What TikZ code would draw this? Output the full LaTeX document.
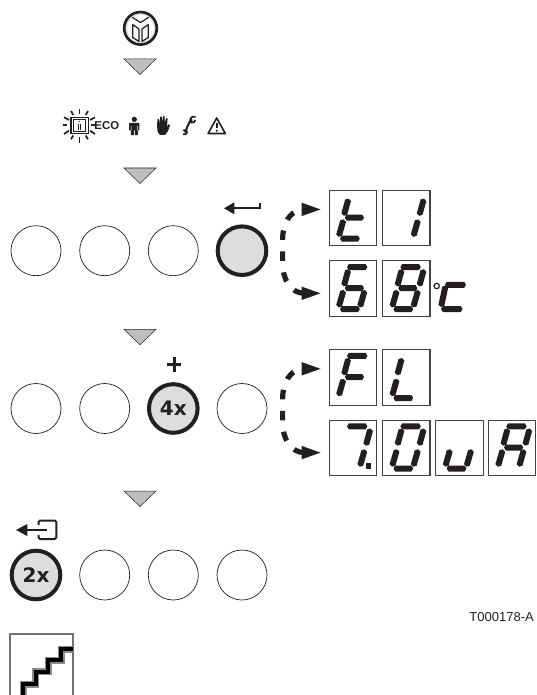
\documentclass[tikz,border=0pt]{standalone}
\usepackage{fontspec}
\setmainfont{Liberation Sans}
\newfontfamily\btnfont{DejaVu Sans}
\usetikzlibrary{calc,arrows.meta}
\definecolor{btngray}{RGB}{220,221,222}
\definecolor{trigray}{RGB}{188,190,192}
\definecolor{inkc}{RGB}{35,31,32}
\tikzset{
  plainbtn/.style={circle,draw=inkc,line width=.7pt,minimum size=50pt,inner sep=0pt,fill=white},
  hotbtn/.style={circle,draw=inkc,line width=4pt,minimum size=48.6pt,inner sep=0pt,fill=btngray,font=\btnfont\bfseries\fontsize{20}{20}\selectfont,text=inkc},
  tri/.style={fill=trigray,draw=inkc,line width=.5pt,line join=miter},
  dispbox/.style={draw=inkc!85,line width=1.2pt,minimum width=47.4pt,minimum height=55.6pt,inner sep=0pt,fill=white,anchor=north west},
  dashconn/.style={draw=inkc,line width=5.2pt,dash pattern=on 9.5pt off 11.5pt,dash phase=11pt,
     {Triangle[length=21pt,width=11.5pt,fill=inkc]}-{Triangle[length=21pt,width=11.5pt,fill=inkc]}},
  iconline/.style={draw=inkc,line width=1pt},
}
% one tapered display segment between two tips
\newcommand\dseg[4]{%
  \fill[inkc] (#1,#2)
    -- ($(#1,#2)!1.8pt!(#3,#4)!3pt!90:(#3,#4)$)
    -- ($(#3,#4)!1.8pt!(#1,#2)!3pt!-90:(#1,#2)$)
    -- (#3,#4)
    -- ($(#3,#4)!1.8pt!(#1,#2)!3pt!90:(#1,#2)$)
    -- ($(#1,#2)!1.8pt!(#3,#4)!3pt!-90:(#3,#4)$) -- cycle;}
\newcommand\sega{\dseg{18.4}{6.9}{38.8}{6.9}}
\newcommand\segb{\dseg{41.9}{9}{37.2}{26.2}}
\newcommand\segc{\dseg{36.2}{29.8}{31.2}{47.2}}
\newcommand\segd{\dseg{11.4}{49}{31.2}{49}}
\newcommand\sege{\dseg{15}{29.8}{10}{47.2}}
\newcommand\segf{\dseg{19.9}{9}{15.2}{26.2}}
\newcommand\segg{\dseg{16.2}{28}{35.4}{28}}
\newcommand\glyph[2]{\foreach \s in {#2}{\begin{scope}[shift={(#1.north west)}]\csname seg\s\endcsname\end{scope}}}
\newcommand\conn[2]{%
  \draw[dashconn] ([shift={(-6,-8.6)}]#1.west) -- ([shift={(-28,-8.6)}]#1.west)
    .. controls ([shift={(-39,-5.6)}]#1.west) and ([shift={(-46,5)}]#1.west) .. ([shift={(-46,22)}]#1.west)
    -- ([shift={(-46,-26)}]#2.west)
    .. controls ([shift={(-46,-9)}]#2.west) and ([shift={(-38,4.7)}]#2.west) .. ([shift={(-24,4.7)}]#2.west)
    -- ([shift={(-6,4.7)}]#2.west);}
\begin{document}
\begin{tikzpicture}[x=1pt,y=-1pt]
\useasboundingbox (0,0) rectangle (536,695);
% top round symbol
\draw[draw=inkc,line width=2.6pt,fill=btngray] (140.5,28.3) circle (16.3);
\fill[white] (140.5,28.3) circle (13.4);
\draw[inkc,line width=1.2pt,line join=miter] (132.3,17.3) -- (140.5,22.5) -- (148.7,17.3);
\draw[inkc,line width=1.2pt,line join=round] (132.8,24.6) -- (139,29) -- (139,41.5) -- (132.8,37.5) -- cycle;
\draw[inkc,line width=1.2pt,line join=round] (148.2,24.6) -- (142,29) -- (142,41.5) -- (148.2,37.5) -- cycle;
% triangles
\foreach \n/\y in {tria/59,trib/168,tric/329.3,trid/491}{
  \fill[tri] (124,\y) -- (156,\y) -- (140,\y+15.5) -- cycle;
  \coordinate (\n) at (140,\y);}
% symbol row
\draw[iconline,line width=1.1pt] (71,117.3) rectangle (88.3,133.3);
\draw[iconline,line width=.8pt] (73.7,119.7) rectangle (85.5,131);
\draw[iconline,line width=.9pt] (79.5,121) -- (79.5,122.5) (78.6,124) -- (78.6,130) (80.4,124) -- (80.4,130);
\foreach \a/\b/\c/\d in {79.5/109.3/79.5/114,79.5/137.3/79.5/142.7,62.7/125.3/67.3/125.3,90.5/125.3/95/125.3,
   71/111/73.3/115,88/111/85.7/115,64/117.3/69/120,95/117.3/90/120,
   64/134/69/130.7,95/134/90/130.7,71/139.3/73.3/135.5,88/139.3/85.7/135.5}
  \draw[inkc,line width=1.7pt] (\a,\b) -- (\c,\d);
\node[font=\bfseries\fontsize{11.4}{11.4}\selectfont,text=inkc,inner sep=0pt] (eco) at (106.8,126) {ECO};
% person
\fill[inkc] (134.3,119.4) circle (2.6);
\fill[inkc,rounded corners=.8pt] (129,122.8) rectangle (139.4,130.5);
\fill[inkc] (130.8,128) rectangle (133.9,135.2) (134.8,128) rectangle (137.8,135.2);
\fill[white] (130.8,126) rectangle (131.4,130.5) (137.1,126) rectangle (137.7,130.5);
% hand
\fill[inkc,rounded corners=.6pt] (157,126) -- (157.5,119) -- (159,119) -- (159.7,124) -- (160.2,116.5) -- (161.8,116.5) -- (162.2,123) -- (163,116) -- (164.6,116) -- (164.8,123) -- (166,118) -- (167.6,118.5) -- (167,127) -- (168.6,124) -- (170,125) -- (168,131) -- (165,135) -- (160,135) -- (157.6,132) -- cycle;
% wrench
\draw[inkc,line width=2pt] (192,119.5) .. controls (188,122) and (187,129) .. (185,132.5);
\draw[inkc,line width=1.8pt] (195.5,116.8) .. controls (191,115.5) and (188.5,120) .. (191.5,122.5) .. controls (193.5,123) and (195,121.5) .. (195.3,120);
\draw[inkc,line width=1.6pt] (183.2,134.2) .. controls (187,135.5) and (188,131.5) .. (186,130) (182.8,130.5) -- (186,130);
% warning
\draw[inkc,line width=1.6pt,line join=round] (216.7,118) -- (225.3,133.5) -- (208.1,133.5) -- cycle;
\draw[inkc,line width=1.6pt] (216.7,122.8) -- (216.7,128);
\fill[inkc] (216.7,130.8) circle (1.1);
% arrow above row 1 button
\fill[inkc] (224,208.3) -- (234.3,202.3) -- (234.3,214.3) -- cycle;
\draw[inkc,line width=2.3pt] (232,208.3) -- (259.6,208.3);
\draw[inkc,line width=2pt] (259.7,209.4) -- (259.7,202.5);
% buttons
\foreach \n/\x in {aa/36,ab/104.7,ac/173.3}{\node[plainbtn] (\n) at (\x,250.7) {};}
\node[hotbtn] (ad) at (242,250.7) {};
\foreach \n/\x in {ba/36,bb/104.7,bd/242}{\node[plainbtn] (\n) at (\x,408.5) {};}
\node[hotbtn] (bc) at (173.3,408.5) {4x};
\foreach \n/\x in {cb/104.7,cc/173.3,cd/242}{\node[plainbtn] (\n) at (\x,575) {};}
\node[hotbtn] (ca) at (36,575) {2x};
% plus
\draw[inkc,line width=3pt] (166.8,364.5) -- (181.2,364.5) (174,357.3) -- (174,371.7);
% exit symbol
\fill[inkc] (16,530) -- (27.3,524) -- (27.3,536) -- cycle;
\draw[inkc,line width=2.2pt] (26,530) -- (47,530);
\draw[inkc,line width=2pt,rounded corners=1.5pt] (38.5,525) -- (38.5,520.5) -- (56.3,520.5) -- (56.3,539) -- (38.5,539) -- (38.5,535);
% displays
\node[dispbox] (da) at (328.6,189.6) {};
\node[dispbox] (db) at (382,189.6) {};
\node[dispbox] (dc) at (328.6,260.2) {};
\node[dispbox] (dd) at (382,260.2) {};
\node[dispbox] (de) at (328.6,349) {};
\node[dispbox] (df) at (382,349) {};
\node[dispbox] (dg) at (328.6,419.5) {};
\node[dispbox] (dh) at (382,419.5) {};
\node[dispbox] (di) at (435.2,419.5) {};
\node[dispbox] (dj) at (487.8,419.5) {};
\glyph{da}{f,e,g,d}
\glyph{db}{b,c}
\glyph{dc}{a,f,e,g,c,d}
\glyph{dd}{a,b,c,d,e,f,g}
\glyph{de}{a,f,e,g}
\glyph{df}{f,e,d}
\glyph{dg}{a,b,c}
\fill[inkc] ([shift={(37.5,43.5)}]dg.north west) rectangle ([shift={(42.5,49)}]dg.north west);
\glyph{dh}{a,b,c,d,e,f}
\glyph{di}{e,c,d}
\glyph{dj}{a,b,c,e,f,g}
% degree C
\draw[inkc,line width=1.2pt] (436.7,286) circle (2.7);
\dseg{445}{284.8}{466}{284.8}
\dseg{445.6}{285.5}{441}{307}
\dseg{441}{309}{462.5}{309}
% connectors
\conn{da}{dc}
\conn{de}{dg}
% label
\node[font=\fontsize{13}{13}\selectfont,text=inkc,inner sep=0pt,anchor=east] (code) at (534,616.8) {T000178-A};
% stairs box
\draw[black!55,line width=1.7pt] (10,695) -- (10,634) -- (73,634) -- (73,695);
\draw[black!45,line width=7pt] (23.3,695) -- (23.3,684) -- (35.7,684) -- (35.7,671.7) -- (48.3,671.7) -- (48.3,660) -- (61,660) -- (61,649.3) -- (73,649.3);
\draw[black,line width=4pt] (23.3,695) -- (23.3,684) -- (35.7,684) -- (35.7,671.7) -- (48.3,671.7) -- (48.3,660) -- (61,660) -- (61,649.3) -- (73,649.3);
\end{tikzpicture}
\end{document}
